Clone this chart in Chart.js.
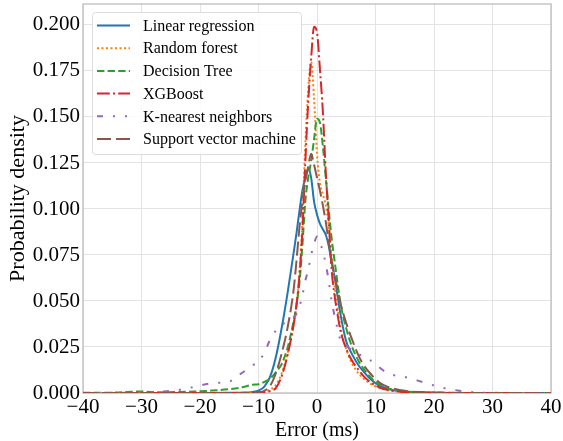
<!DOCTYPE html>
<html>
<head>
<meta charset="utf-8">
<script src="https://cdn.jsdelivr.net/npm/chart.js@4.4.0/dist/chart.umd.min.js"></script>
<style>
  html, body { margin: 0; padding: 0; background: #ffffff; }
  canvas { display: block; }
</style>
</head>
<body>
<canvas id="chart1" width="563" height="441"></canvas>
<script>
const errorMs = [-40, -35, -30, -27, -24, -21, -18, -15, -13, -11,
  -10, -9, -8, -7, -6, -5, -4,
  -3.5, -3, -2.5, -2, -1.5, -1, -0.5, 0,
  0.5, 1, 1.5, 2, 2.5, 3, 3.5, 4,
  5, 6, 7, 8, 9, 10, 11, 12, 13,
  15, 18, 21, 24, 27, 30, 35, 40];

const linearRegression = [0, 0, 0, 0, 0, 0, 0, 0.0001, 0.0002, 0.0006,
  0.0013, 0.0035, 0.009, 0.02, 0.036, 0.055, 0.076,
  0.087, 0.099, 0.11, 0.117, 0.122, 0.117, 0.104, 0.097,
  0.092, 0.089, 0.086, 0.08, 0.071, 0.063, 0.053, 0.043,
  0.028, 0.021, 0.0155, 0.0115, 0.008, 0.0053, 0.0036, 0.0023, 0.0015,
  0.0007, 0.0003, 0.0001, 0.00005, 0, 0, 0, 0];

const randomForest = [0, 0, 0, 0, 0, 0, 0, 0.00005, 0.0001, 0.0002,
  0.0004, 0.0008, 0.0018, 0.0045, 0.011, 0.022, 0.037,
  0.048, 0.065, 0.093, 0.135, 0.165, 0.18, 0.16, 0.13,
  0.114, 0.108, 0.102, 0.091, 0.074, 0.058, 0.046, 0.036,
  0.024, 0.016, 0.011, 0.0078, 0.0053, 0.0036, 0.0024, 0.0016, 0.0011,
  0.0005, 0.0002, 0.0001, 0, 0, 0, 0, 0];

const decisionTree = [0.0001, 0.0002, 0.0008, 0.0004, 0.0005, 0.0008, 0.0013, 0.0021, 0.003, 0.0045,
  0.0048, 0.006, 0.0078, 0.0115, 0.016, 0.025, 0.039,
  0.048, 0.06, 0.08, 0.104, 0.117, 0.126, 0.138, 0.149,
  0.147, 0.134, 0.117, 0.1, 0.084, 0.072, 0.06, 0.049,
  0.035, 0.025, 0.018, 0.013, 0.009, 0.006, 0.0042, 0.0027, 0.0018,
  0.0009, 0.0004, 0.0002, 0.0001, 0, 0, 0, 0];

const xgBoost = [0, 0, 0, 0, 0, 0, 0, 0, 0, 0.0001,
  0.0002, 0.0005, 0.0011, 0.0028, 0.0095, 0.021, 0.037,
  0.048, 0.064, 0.088, 0.125, 0.158, 0.182, 0.199, 0.196,
  0.176, 0.153, 0.12, 0.094, 0.067, 0.053, 0.043, 0.034,
  0.024, 0.0175, 0.013, 0.009, 0.0062, 0.0042, 0.0026, 0.0017, 0.0012,
  0.0005, 0.0002, 0.0001, 0, 0, 0, 0, 0];

const kNearest = [0, 0.0001, 0.0003, 0.0007, 0.0015, 0.0033, 0.0053, 0.0062, 0.0105, 0.015,
  0.017, 0.022, 0.029, 0.034, 0.037, 0.039, 0.041,
  0.043, 0.047, 0.053, 0.061, 0.067, 0.075, 0.081, 0.085,
  0.082, 0.077, 0.07, 0.061, 0.05, 0.042, 0.035, 0.029,
  0.026, 0.023, 0.0215, 0.0195, 0.018, 0.016, 0.013, 0.011, 0.0098,
  0.0087, 0.006, 0.0032, 0.0014, 0.0004, 0.0001, 0, 0];

const supportVector = [0, 0, 0, 0, 0, 0, 0, 0, 0, 0.0001,
  0.0004, 0.0012, 0.004, 0.011, 0.022, 0.036, 0.056,
  0.072, 0.09, 0.104, 0.115, 0.123, 0.13, 0.124, 0.117,
  0.11, 0.102, 0.093, 0.082, 0.072, 0.064, 0.057, 0.049,
  0.038, 0.029, 0.021, 0.015, 0.011, 0.0075, 0.005, 0.0035, 0.0025,
  0.0012, 0.0004, 0.0001, 0, 0, 0, 0, 0];

const seriesNames = ["Linear regression", "Random forest", "Decision Tree", "XGBoost",
  "K-nearest neighbors", "Support vector machine"];

const xTicks = [-40, -30, -20, -10, 0, 10, 20, 30, 40];
const yTicks = [0, 0.025, 0.05, 0.075, 0.1, 0.125, 0.15, 0.175, 0.2];

const serif = '"Liberation Serif", "Times New Roman", serif';

const seriesValues = [linearRegression, randomForest, decisionTree, xgBoost, kNearest, supportVector];
const colours = ["#1f77b4", "#ff7f0e", "#2ca02c", "#d62728", "#9467bd", "#8c564b"];
const dashes = [[], [2, 2.5], [7.4, 3.2], [12.8, 3.2, 2, 3.2], [6, 10, 2, 10, 2, 10], [14, 5]];

const datasets = seriesNames.map((name, i) => ({
    label: name,
    data: errorMs.map((x, j) => ({ x: x, y: seriesValues[i][j] })),
    borderColor: colours[i],
    backgroundColor: colours[i],
    borderWidth: 2,
    borderDash: dashes[i],
    pointRadius: 0,
    fill: false,
    cubicInterpolationMode: "monotone",
    order: seriesNames.length - i
}));

// grey frame on all four sides
const frame = {
    id: "frame",
    beforeDatasetsDraw(chart) {
        const a = chart.chartArea;
        const ctx = chart.ctx;
        ctx.save();
        ctx.strokeStyle = "#bdbdbd";
        ctx.lineWidth = 1.3;
        ctx.strokeRect(a.left, a.top, a.right - a.left, a.bottom - a.top);
        ctx.restore();
    }
};

// legend drawn inside the plot, matplotlib style
const legendBox = {
    id: "legendBox",
    afterDatasetsDraw(chart) {
        const a = chart.chartArea;
        const ctx = chart.ctx;
        const x0 = a.left + 9, y0 = a.top + 8, w = 209, h = 142;
        ctx.save();
        ctx.fillStyle = "rgba(255,255,255,0.85)";
        ctx.strokeStyle = "#dcdcdc";
        ctx.lineWidth = 1;
        ctx.beginPath();
        ctx.roundRect(x0 + 0.5, y0 + 0.5, w, h, 3);
        ctx.fill();
        ctx.stroke();
        ctx.font = "16px " + serif;
        ctx.textBaseline = "middle";
        chart.data.datasets.forEach((ds, i) => {
            const yy = y0 + 13.5 + i * 22.7;
            ctx.strokeStyle = ds.borderColor;
            ctx.lineWidth = ds.borderWidth;
            ctx.setLineDash(ds.borderDash);
            ctx.beginPath();
            ctx.moveTo(x0 + 5, yy);
            ctx.lineTo(x0 + 38, yy);
            ctx.stroke();
            ctx.setLineDash([]);
            ctx.fillStyle = "#000000";
            ctx.fillText(ds.label, x0 + 51, yy + 1);
        });
        ctx.restore();
    }
};

new Chart(document.getElementById("chart1"), {
    type: "line",
    data: { datasets: datasets },
    plugins: [frame, legendBox],
    options: {
        responsive: false,
        animation: false,
        devicePixelRatio: 1,
        layout: { padding: { left: 0, top: 4, right: 12, bottom: 0 } },
        plugins: { legend: { display: false }, tooltip: { enabled: false } },
        scales: {
            x: {
                type: "linear",
                min: -40,
                max: 40,
                afterBuildTicks: s => { s.ticks = xTicks.map(v => ({ value: v })); },
                afterFit: s => { s.height = 48; s.paddingLeft = 0; s.paddingRight = 0; },
                grid: { color: "#e3e3e3", drawTicks: false },
                border: { display: false },
                ticks: {
                    color: "#000000",
                    font: { family: serif, size: 21 },
                    padding: 2,
                    maxRotation: 0,
                    autoSkip: false,
                    callback: v => v < 0 ? "\u2212" + (-v) : String(v)
                },
                title: {
                    display: true,
                    text: "Error (ms)",
                    color: "#000000",
                    font: { family: serif, size: 20, lineHeight: 1 },
                    padding: { top: 0, bottom: 0 }
                }
            },
            y: {
                min: 0,
                max: 0.2114,
                afterBuildTicks: s => { s.ticks = yTicks.map(v => ({ value: v })); },
                afterFit: s => { s.width = 83; s.paddingTop = 0; s.paddingBottom = 0; },
                grid: { color: "#e3e3e3", drawTicks: false },
                border: { display: false },
                ticks: {
                    color: "#000000",
                    font: { family: serif, size: 21 },
                    padding: 3,
                    callback: v => v.toFixed(3)
                },
                title: {
                    display: true,
                    text: "Probability density",
                    color: "#000000",
                    font: { family: serif, size: 22, lineHeight: 1 },
                    padding: { top: 7, bottom: 0 }
                }
            }
        }
    }
});
</script>
</body>
</html>
